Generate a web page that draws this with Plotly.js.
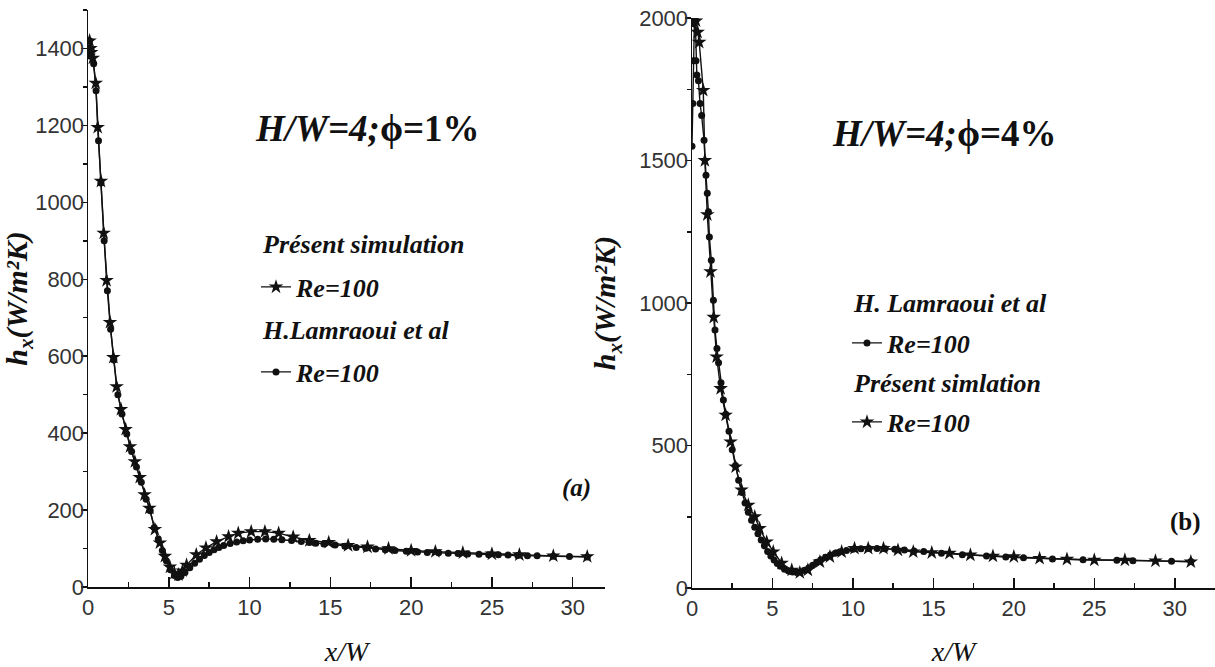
<!DOCTYPE html>
<html>
<head>
<meta charset="utf-8">
<script src="https://cdn.plot.ly/plotly-3.0.1.min.js"></script>
<style>html,body{margin:0;padding:0;background:#fff;}#chart{width:1215px;height:667px;}</style>
</head>
<body>
<div id="chart"></div>
<script>
// ---- Panel (a): H/W=4, phi=1% ----
const xStarA = [0.05,0.1,0.15,0.2,0.3,0.48,0.6,0.8,0.97,1.15,1.36,1.57,1.77,2.04,2.33,2.6,2.9,3.2,3.5,3.8,4.14,4.45,4.76,5.07,5.35,5.6,5.85,6.1,6.7,7.3,7.96,8.7,9.3,10.1,10.95,11.8,12.7,13.7,14.9,16.1,17.3,18.6,20.0,21.5,23.2,25.0,26.7,28.8,30.9];
const yStarA = [1380,1420,1400,1390,1375,1310,1195,1055,920,797,688,597,521,462,410,365,326,285,240,205,150,115,80,52,36,32,42,57,84,102,118,131,140,144,144,140,130,121,116,108,104,100,95,92,89,86,84,81,79];
const xDotA = [0.05,0.1,0.2,0.35,0.5,0.65,0.8,1.0,1.2,1.4,1.6,1.85,2.1,2.4,2.7,3.0,3.3,3.6,3.85,4.1,4.35,4.6,4.85,5.1,5.35,5.55,5.75,6.0,6.3,6.6,6.9,7.2,7.5,7.8,8.1,8.4,8.8,9.2,9.6,10.0,10.5,11.0,11.5,12.0,12.6,13.2,13.7,14.1,14.6,15.3,15.9,16.6,17.2,17.8,18.4,19.0,19.7,20.4,21.0,21.7,22.3,22.9,23.5,24.2,24.8,25.4,26.0,26.6,27.2,27.8,28.8,29.8,30.9];
const yDotA = [1400,1420,1395,1360,1290,1160,1050,900,770,670,590,500,450,398,352,312,272,228,198,155,125,95,68,45,30,25,28,38,50,62,72,82,90,97,103,108,113,117,120,122,124,125,124,123,121,118,116,114,112,109,106,103,101,99,97,95,93,91,90,89,88,87,86,85,84,84,83,82,81,81,80,79,78];

// ---- Panel (b): H/W=4, phi=4% ----
const xStarB = [0.05,0.15,0.25,0.35,0.45,0.7,0.8,0.95,1.15,1.35,1.53,1.78,2.09,2.4,2.71,3.08,3.5,3.9,4.2,4.64,5.05,5.57,6.2,6.7,7.2,7.95,8.57,9.3,10.1,10.95,11.9,12.8,13.75,14.9,16.0,17.3,18.7,20.0,21.6,23.3,25.0,26.9,28.8,31.0];
const yStarB = [1980,2000,1990,1950,1915,1746,1500,1310,1110,950,811,700,607,513,425,344,291,250,209,162,127,87,63,54,63,92,110,127,139,139,139,133,127,124,122,116,112,110,104,101,98,98,95,92];
const xDotB = [0,0.05,0.1,0.15,0.2,0.25,0.3,0.4,0.5,0.6,0.75,0.87,0.95,1.02,1.08,1.2,1.33,1.43,1.55,1.65,1.8,1.95,2.1,2.3,2.5,2.7,2.9,3.1,3.3,3.5,3.7,3.9,4.1,4.3,4.5,4.7,4.9,5.1,5.3,5.5,5.75,6.0,6.25,6.5,6.75,7.0,7.25,7.5,7.75,8.0,8.3,8.6,8.9,9.2,9.6,10.0,10.5,11.0,11.5,12.0,12.6,13.2,13.8,14.4,15.5,16.8,18.3,19.5,20.6,22.4,24.3,26.4,27.4,29.8,31.0];
const yDotB = [1550,1700,1850,1990,2000,1850,1800,1780,1700,1658,1571,1448,1385,1320,1232,1150,1010,905,840,790,720,660,610,550,485,430,378,335,298,266,238,213,190,168,148,128,112,98,86,76,66,60,56,55,57,62,70,80,90,99,108,116,122,127,132,136,138,139,139,138,136,133,130,128,122,117,112,109,106,102,99,97,96,94,93];

const seriesName = 'Re=100';
const headA = ['Présent simulation', 'H.Lamraoui et al'];
const headB = ['H. Lamraoui et al', 'Présent simlation'];
const caseA = '<i>H/W=4;</i>ϕ=1%';
const caseB = '<i>H/W=4;</i>ϕ=4%';
const yTitle = '<b><i>h<sub>x</sub>(W/m²K)</i></b>';
const xTitle = '<i>x/W</i>';
const xTicksA = [0,5,10,15,20,25,30];
const yTicksA = [0,200,400,600,800,1000,1200,1400];
const yTicksB = [0,500,1000,1500,2000];

const serif = 'Times New Roman, Liberation Serif, DejaVu Serif, serif';
const sans = 'Arial Narrow, Liberation Sans Narrow, Arial, Liberation Sans, sans-serif';

const W = 1215, H = 667, ML = 88, MR = 0, MT = 10, MB = 79;
const px = v => (v - ML) / (W - ML - MR);
const py = v => (H - MB - v) / (H - MT - MB);

const lineStyle = {color: '#111', width: 1.4};
const starMarker = {symbol: 'star', size: 11, color: '#111', line: {width: 0}};
const dotMarker = {symbol: 'circle', size: 7, color: '#111', line: {width: 0}};

const traces = [
  {x: xStarA, y: yStarA, xaxis: 'x', yaxis: 'y', mode: 'lines+markers', name: seriesName, line: lineStyle, marker: starMarker, legend: 'legend'},
  {x: xDotA, y: yDotA, xaxis: 'x', yaxis: 'y', mode: 'lines+markers', name: seriesName, line: lineStyle, marker: dotMarker, legend: 'legend2'},
  {x: xDotB, y: yDotB, xaxis: 'x2', yaxis: 'y2', mode: 'lines+markers', name: seriesName, line: lineStyle, marker: dotMarker, legend: 'legend3'},
  {x: xStarB, y: yStarB, xaxis: 'x2', yaxis: 'y2', mode: 'lines+markers', name: seriesName, line: lineStyle, marker: starMarker, legend: 'legend4'}
];

const tickFont = {family: sans, size: 22, color: '#333'};
const xAxisBase = {
  showline: true, linecolor: '#111', linewidth: 1.5, showgrid: false, zeroline: false,
  ticks: 'inside', ticklen: 10, tickwidth: 1.5, tickcolor: '#111',
  tickvals: xTicksA, tickfont: tickFont,
  minor: {ticks: 'inside', ticklen: 5, tickwidth: 1.5, tickcolor: '#111', dtick: 2.5, showgrid: false},
  title: {text: xTitle, font: {family: serif, size: 28, color: '#111'}, standoff: 22}
};
const yAxisBase = {
  showline: true, linecolor: '#111', linewidth: 1.5, showgrid: false, zeroline: false,
  ticks: 'outside', ticklen: 6, tickwidth: 1.5, tickcolor: '#111', tickfont: tickFont,
  ticklabelstandoff: -8,
  title: {text: yTitle, font: {family: serif, size: 30, color: '#111'}, standoff: 14}
};

const legendBase = (xp, yp) => ({
  x: px(xp), y: py(yp), xanchor: 'left', yanchor: 'middle', bgcolor: 'rgba(0,0,0,0)',
  borderwidth: 0, font: {family: serif, size: 26, color: '#111', weight: 'bold', style: 'italic'},
  itemwidth: 30, tracegroupgap: 0
});

const ann = (text, xp, yp, size, opts) => Object.assign({
  text: text, xref: 'paper', yref: 'paper', x: px(xp), y: py(yp), xanchor: 'left', yanchor: 'middle',
  showarrow: false, font: {family: serif, size: size, color: '#111', weight: 'bold'}
}, opts || {});

const layout = {
  width: W, height: H, margin: {l: ML, r: MR, t: MT, b: MB},
  paper_bgcolor: '#fff', plot_bgcolor: '#fff', showlegend: true,
  font: {family: serif, color: '#111'},
  xaxis: Object.assign({}, xAxisBase, {domain: [0, px(605)], range: [0, 32], anchor: 'y'}),
  yaxis: Object.assign({}, yAxisBase, {domain: [py(587), 1], range: [0, 1500], tickvals: yTicksA, minor: {ticks: 'outside', ticklen: 4, tickwidth: 1.5, tickcolor: '#111', dtick: 100}, anchor: 'x'}),
  xaxis2: Object.assign({}, xAxisBase, {domain: [px(692), 1], range: [0, 32.5], anchor: 'y2'}),
  yaxis2: Object.assign({}, yAxisBase, {domain: [0, py(18)], range: [0, 2000], tickvals: yTicksB, minor: {ticks: 'outside', ticklen: 4, tickwidth: 1.5, tickcolor: '#111', dtick: 250}, anchor: 'x2'}),
  legend: legendBase(256, 287),
  legend2: legendBase(256, 372),
  legend3: legendBase(847, 343),
  legend4: legendBase(847, 422),
  annotations: [
    ann(caseA, 253, 128, 37),
    ann('<i>' + headA[0] + '</i>', 260, 244, 26),
    ann('<i>' + headA[1] + '</i>', 260, 330, 26),
    ann('<i>(a)</i>', 560, 488, 25),
    ann(caseB, 830, 134, 37),
    ann('<i>' + headB[0] + '</i>', 851, 303, 26),
    ann('<i>' + headB[1] + '</i>', 851, 383, 26),
    ann('(b)', 1168, 522, 25)
  ]
};

Plotly.newPlot('chart', traces, layout, {staticPlot: true, displayModeBar: false});
</script>
</body>
</html>
